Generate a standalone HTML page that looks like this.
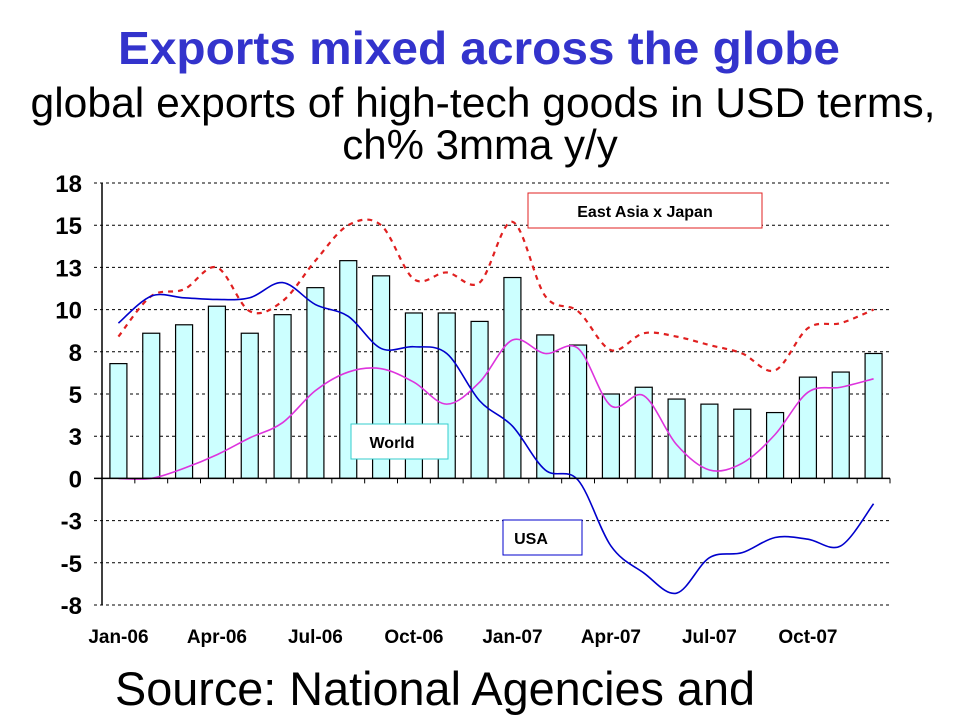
<!DOCTYPE html>
<html><head><meta charset="utf-8"><style>
body{margin:0;width:960px;height:720px;background:#fff;overflow:hidden;font-family:"Liberation Sans",Arial,sans-serif}
</style></head><body>
<svg width="960" height="720" style="position:absolute;left:0;top:0">
<text x="479" y="64" text-anchor="middle" font-size="46" font-weight="bold" fill="#3333cc" textLength="722" lengthAdjust="spacingAndGlyphs">Exports mixed across the globe</text>
<text x="483" y="117" text-anchor="middle" font-size="42" fill="#000" textLength="905" lengthAdjust="spacingAndGlyphs">global exports of high-tech goods in USD terms,</text>
<text x="480" y="159" text-anchor="middle" font-size="42" fill="#000">ch% 3mma y/y</text>
<g id="grid"></g><g id="bars"></g><g id="lines"></g><g id="axes"></g>
<rect x="528" y="193" width="234" height="35" fill="#fff" stroke="#e02020"/>
<text x="645" y="217" text-anchor="middle" font-size="16" font-weight="bold">East Asia x Japan</text>
<rect x="351" y="424" width="97" height="35" fill="#fff" stroke="#33cccc"/>
<text x="392" y="448" text-anchor="middle" font-size="16" font-weight="bold">World</text>
<rect x="503" y="520" width="79" height="35" fill="#fff" stroke="#0000cc"/>
<text x="531" y="544" text-anchor="middle" font-size="16" font-weight="bold">USA</text>
<text x="115" y="705" font-size="47" fill="#000" textLength="640" lengthAdjust="spacingAndGlyphs">Source: National Agencies and</text>
</svg>
<script>
const months=["Jan-06","Feb-06","Mar-06","Apr-06","May-06","Jun-06","Jul-06","Aug-06","Sep-06","Oct-06","Nov-06","Dec-06","Jan-07","Feb-07","Mar-07","Apr-07","May-07","Jun-07","Jul-07","Aug-07","Sep-07","Oct-07","Nov-07","Dec-07"];
const worldBars=[6.8,8.6,9.1,10.2,8.6,9.7,11.3,12.9,12.0,9.8,9.8,9.3,11.9,8.5,7.9,5.0,5.4,4.7,4.4,4.1,3.9,6.0,6.3,7.4];
const usa=[9.2,10.8,10.7,10.6,10.7,11.6,10.3,9.6,7.7,7.8,7.4,4.6,3.1,0.5,-0.1,-4.0,-5.6,-6.8,-4.7,-4.4,-3.5,-3.6,-4.0,-1.5];
const world=[0,0,0.6,1.4,2.4,3.3,5.2,6.3,6.5,5.7,4.4,5.7,8.2,7.4,7.7,4.3,4.9,2.0,0.5,0.9,2.6,5.1,5.4,5.9];
const eastAsia=[8.4,10.8,11.2,12.5,9.9,10.5,12.9,15.0,15.0,11.8,12.2,11.6,15.2,10.8,9.9,7.6,8.6,8.4,7.9,7.4,6.4,8.9,9.2,10.0];
const yTicks=[17.5,15,12.5,10,7.5,5,2.5,0,-2.5,-5,-7.5];
const yLabels=["18","15","13","10","8","5","3","0","-3","-5","-8"];
const NS="http://www.w3.org/2000/svg";
const X0=102,X1=890,Y0=183,Y1=605,ymax=17.5,ymin=-7.5;
const bw=(X1-X0)/months.length;
const x=i=>X0+bw*(i+0.5);
const y=v=>Y0+(ymax-v)*(Y1-Y0)/(ymax-ymin);
function mk(tag,attrs,parent){const e=document.createElementNS(NS,tag);for(const k in attrs)e.setAttribute(k,attrs[k]);document.getElementById(parent).appendChild(e);return e;}
yTicks.forEach((t,i)=>{
 if(t!==0){const g=mk('line',{x1:94,x2:X1,y1:y(t),y2:y(t),stroke:'#000','stroke-dasharray':'3,3','stroke-width':1},'grid');
 
 }
 const l=mk('text',{x:82,y:y(t)+9,'text-anchor':'end','font-size':24,'font-weight':'bold'},'axes');l.textContent=yLabels[i];
 
 
});
worldBars.forEach((v,i)=>{
 const b=mk('rect',{x:x(i)-8.5,y:Math.min(y(v),y(0)),width:17,height:Math.abs(y(0)-y(v)),fill:'#ccffff',stroke:'#000','stroke-width':1.2},'bars');
 
 
});
function smooth(arr){let d=`M${x(0)},${y(arr[0])}`;for(let i=0;i<arr.length-1;i++){const p0=i?i-1:i,p3=i+2<arr.length?i+2:i+1;
 const c1x=x(i)+(x(i+1)-x(p0))/6,c1y=y(arr[i])+(y(arr[i+1])-y(arr[p0]))/6,c2x=x(i+1)-(x(p3)-x(i))/6,c2y=y(arr[i+1])-(y(arr[p3])-y(arr[i]))/6;
 d+=` C${c1x},${c1y} ${c2x},${c2y} ${x(i+1)},${y(arr[i+1])}`;}return d;}
const l1=mk('path',{d:smooth(eastAsia),fill:'none',stroke:'#e02020','stroke-width':2.2,'stroke-dasharray':'5,5'},'lines');


const l2=mk('path',{d:smooth(world),fill:'none',stroke:'#dd33dd','stroke-width':1.6},'lines');


const l3=mk('path',{d:smooth(usa),fill:'none',stroke:'#0000cc','stroke-width':1.6},'lines');


const ya=mk('line',{x1:X0,x2:X0,y1:Y0,y2:Y1,stroke:'#000','stroke-width':1.5},'axes');


const xa=mk('line',{x1:94,x2:X1,y1:y(0),y2:y(0),stroke:'#000','stroke-width':1.5},'axes');


for(let i=0;i<=months.length;i++){const t=mk('line',{x1:X0+bw*i,x2:X0+bw*i,y1:y(0),y2:y(0)+5,stroke:'#000'},'axes');
 
 }
months.forEach((m,i)=>{if(i%3)return;const t=mk('text',{x:x(i),y:643,'text-anchor':'middle','font-size':19,'font-weight':'bold'},'axes');t.textContent=m;
 
 });
</script>
</body></html>
